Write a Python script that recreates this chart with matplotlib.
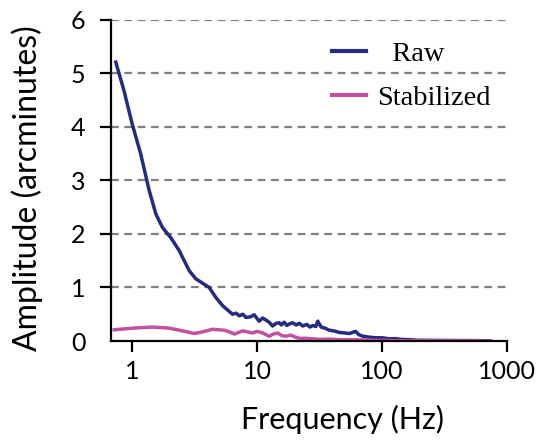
import matplotlib
matplotlib.use("Agg")
import matplotlib.pyplot as plt
from matplotlib.ticker import FixedLocator, NullLocator

# values
raw_freq = [0.74, 0.86, 1.0, 1.17, 1.37, 1.55, 1.75, 2.04, 2.38, 2.87, 3.24,
            4.14, 4.69, 5.3, 6.36, 6.8, 7.2, 7.7, 8.15, 8.8, 9.5, 10.0, 10.4,
            11.1, 11.8, 12.5, 13.3, 14.2, 15.1, 15.6, 16.5, 17.3, 18.2, 19.3,
            20.5, 21.8, 23.2, 25.0, 26.5, 27.9, 29.5, 30.6, 31.5, 32.6, 35.0,
            38.0, 41.0, 45.7, 50.0, 55.0, 58.0, 61.5, 65.0, 70.0, 80.0, 90.0,
            100.0, 115.0, 128.0, 142.0, 165.0, 188.0, 250.0, 350.0, 500.0, 730.0]
raw_amp = [5.21, 4.68, 4.06, 3.50, 2.81, 2.37, 2.12, 1.93, 1.69, 1.31, 1.16,
           1.00, 0.81, 0.66, 0.50, 0.52, 0.47, 0.50, 0.44, 0.45, 0.49, 0.42, 0.37,
           0.43, 0.39, 0.35, 0.28, 0.33, 0.34, 0.30, 0.35, 0.29, 0.32, 0.34,
           0.30, 0.33, 0.28, 0.31, 0.26, 0.29, 0.27, 0.37, 0.32, 0.26, 0.24,
           0.20, 0.19, 0.16, 0.15, 0.14, 0.16, 0.18, 0.12, 0.09, 0.07, 0.06,
           0.06, 0.04, 0.045, 0.03, 0.025, 0.015, 0.012, 0.01, 0.008, 0.005]

stab_freq = [0.72, 1.0, 1.45, 1.98, 2.53, 3.14, 3.66, 4.4, 5.5, 6.0, 6.6, 7.7,
             8.4, 9.2, 10.0, 11.1, 12.5, 13.5, 14.6, 15.8, 17.1, 18.5, 20.5,
             21.8, 25.0, 31.6, 38.0, 45.7, 62.0, 80.0, 100.0, 200.0, 400.0, 730.0]
stab_amp = [0.21, 0.24, 0.26, 0.24, 0.19, 0.14, 0.17, 0.22, 0.20, 0.17, 0.13,
            0.19, 0.17, 0.15, 0.18, 0.15, 0.09, 0.13, 0.15, 0.10, 0.09, 0.11,
            0.07, 0.05, 0.05, 0.03, 0.035, 0.025, 0.025, 0.015, 0.01, 0.005,
            0.003, 0.0]

x_ticks = [1, 10, 100, 1000]
x_ticklabels = ["1", "10", "100", "1000"]
y_ticks = [0, 1, 2, 3, 4, 5, 6]

fig = plt.figure(figsize=(5.48, 4.40), dpi=100)
ax = fig.add_axes([0.2026, 0.225, 0.7225, 0.73])

for yv in y_ticks[1:]:
    ax.axhline(yv, color="#808080", lw=1.6, ls=(0, (3.5, 2.5)), zorder=0)

ax.plot(raw_freq, raw_amp, color="#232b82", lw=2.5, label="  Raw")
ax.plot(stab_freq, stab_amp, color="#c2519f", lw=2.5, label="Stabilized")

ax.set_xscale("log")
ax.set_xlim(0.678, 1000)
ax.set_ylim(0, 6)
ax.xaxis.set_major_locator(FixedLocator(x_ticks))
ax.xaxis.set_minor_locator(NullLocator())
ax.set_xticklabels(x_ticklabels)
ax.set_yticks(y_ticks)

tick_font = "Lato"
for lab in ax.get_xticklabels() + ax.get_yticklabels():
    lab.set_fontfamily(tick_font)
    lab.set_fontsize(18)
ax.tick_params(axis="both", length=8, width=1.6, direction="out")
ax.tick_params(axis="y", pad=10.5)
ax.tick_params(axis="x", pad=6)
ax.yaxis.get_major_ticks()[0].tick1line.set_visible(False)

ax.spines["top"].set_visible(False)
ax.spines["right"].set_visible(False)
ax.spines["left"].set_linewidth(1.6)
ax.spines["bottom"].set_linewidth(1.6)

ax.set_xlabel("Frequency (Hz)", fontfamily=tick_font, fontsize=22)
ax.set_ylabel("Amplitude (arcminutes)", fontfamily=tick_font, fontsize=23)
ax.xaxis.set_label_coords(0.585, -0.2)
ax.yaxis.set_label_coords(-0.172, 0.477)

leg = ax.legend(loc="upper left", bbox_to_anchor=(0.558, 0.935), frameon=False,
                prop={"family": "Liberation Serif", "size": 20.5},
                handlelength=1.2, handletextpad=0.4, labelspacing=0.66,
                borderpad=0, borderaxespad=0)
for line in leg.get_lines():
    line.set_linewidth(3)

fig.savefig("out.png", dpi=100)
